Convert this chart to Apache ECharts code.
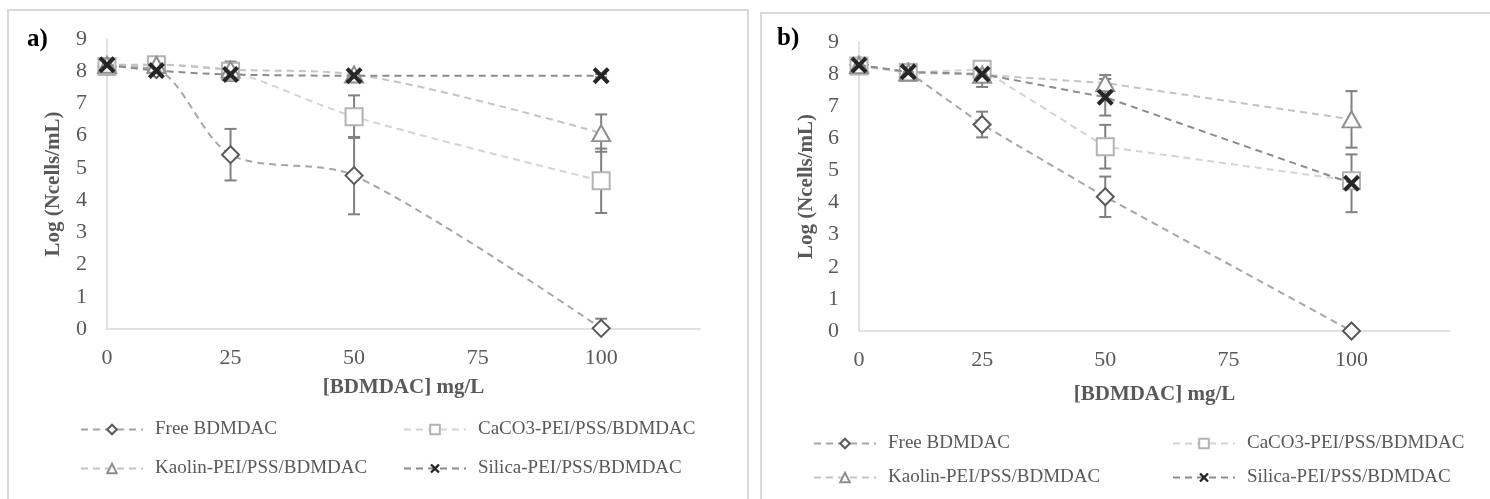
<!DOCTYPE html>
<html>
<head>
<meta charset="utf-8">
<script src="https://cdn.jsdelivr.net/npm/echarts@6/dist/echarts.min.js"></script>
<style>
html,body{margin:0;padding:0;background:#fff;}
#chart{width:1490px;height:499px;}
</style>
</head>
<body>
<div id="chart"></div>
<script>
// ---- data ----
const xValues = [0, 10, 25, 50, 100];
const xTicks = [0, 25, 50, 75, 100];
const seriesNames = ['Free BDMDAC', 'CaCO3-PEI/PSS/BDMDAC', 'Kaolin-PEI/PSS/BDMDAC', 'Silica-PEI/PSS/BDMDAC'];
const panelLabels = ['a)', 'b)'];
const xAxisTitle = '[BDMDAC] mg/L';
const yAxisTitle = 'Log (Ncells/mL)';

// panel a
const freeA      = [8.15, 8.05, 5.41, 4.76, 0.02];
const freeAErr   = [0.05, 0.10, 0.80, 1.20, 0.30];
const caco3A     = [8.15, 8.20, 8.00, 6.59, 4.60];
const caco3AErr  = [0.10, 0.10, 0.30, 0.66, 1.00];
const kaolinA    = [8.20, 8.20, 8.05, 7.90, 6.08];
const kaolinAErr = [0.05, 0.10, 0.20, 0.10, 0.58];
const silicaA    = [8.20, 8.02, 7.90, 7.86, 7.86];
const silicaAErr = [0.05, 0.05, 0.10, 0.05, 0.05];

// panel b
const freeB      = [8.28, 8.07, 6.43, 4.18, 0.00];
const freeBErr   = [0.05, 0.10, 0.40, 0.63, 0.05];
const caco3B     = [8.25, 8.05, 8.15, 5.74, 4.68];
const caco3BErr  = [0.05, 0.10, 0.20, 0.68, 0.20];
const kaolinB    = [8.28, 8.05, 7.98, 7.72, 6.59];
const kaolinBErr = [0.05, 0.10, 0.38, 0.25, 0.88];
const silicaB    = [8.28, 8.07, 8.00, 7.28, 4.60];
const silicaBErr = [0.05, 0.05, 0.10, 0.57, 0.90];

// ---- styles ----
const FONT = 'Liberation Serif';
const xMark = 'path://M0,1.7L1.7,0L5,3.3L8.3,0L10,1.7L6.7,5L10,8.3L8.3,10L5,6.7L1.7,10L0,8.3L3.3,5Z';
const styles = [
  {line:'#a6a6a6', marker:'#595959', symbol:'emptyDiamond', size:17, bw:2.5},
  {line:'#d4d4d4', marker:'#b3b3b3', symbol:'emptyRect', size:17, bw:2.5},
  {line:'#c4c4c4', marker:'#8f8f8f', symbol:'emptyTriangle', size:[18,16], bw:2.5},
  {line:'#8c8c8c', marker:'#262626', symbol:xMark, size:17, bw:0}
];

const panels = [
  {vals:[freeA, caco3A, kaolinA, silicaA], errs:[freeAErr, caco3AErr, kaolinAErr, silicaAErr], smooth:0.3},
  {vals:[freeB, caco3B, kaolinB, silicaB], errs:[freeBErr, caco3BErr, kaolinBErr, silicaBErr], smooth:false}
];

function errRender(params, api) {
  const x = api.value(0), y = api.value(1), e = api.value(2);
  const t = api.coord([x, y + e]);
  const b = api.coord([x, y - e]);
  const w = 6;
  const st = {stroke:'#808080', lineWidth:2};
  return {type:'group', children:[
    {type:'line', shape:{x1:t[0], y1:t[1], x2:b[0], y2:b[1]}, style:st},
    {type:'line', shape:{x1:t[0]-w, y1:t[1], x2:t[0]+w, y2:t[1]}, style:st},
    {type:'line', shape:{x1:b[0]-w, y1:b[1], x2:b[0]+w, y2:b[1]}, style:st}
  ]};
}

const series = [];
panels.forEach((p, pi) => {
  p.vals.forEach((vals, si) => {
    const s = styles[si];
    series.push({
      name: seriesNames[si], type:'line', xAxisIndex:pi, yAxisIndex:pi,
      data: xValues.map((x, i) => [x, vals[i]]),
      symbol: s.symbol, symbolSize: s.size, showSymbol:true, smooth:p.smooth,
      lineStyle:{color:s.line, width:2, type:[7,5]},
      itemStyle:{color:s.marker, borderColor:s.marker, borderWidth:s.bw},
      z: 3 + si, emphasis:{disabled:true}, silent:true
    });
  });
  p.vals.forEach((vals, si) => {
    series.push({
      name: 'err' + pi + '_' + si, type:'custom', xAxisIndex:pi, yAxisIndex:pi,
      data: xValues.map((x, i) => [x, vals[i], p.errs[si][i]]),
      renderItem: errRender, clip:true, z:2, silent:true
    });
  });
});

const grids = [
  {left:107, top:39, width:593, height:290},
  {left:859, top:42, width:591, height:289}
];
const xNameGap = [48, 53];
const yNameGap = [43, 42];

function xAxis(i) {
  return {
    gridIndex:i, type:'value', min:0, max:120, interval:25,
    axisLine:{show:true, lineStyle:{color:'#d9d9d9', width:1.5}},
    axisTick:{show:false}, splitLine:{show:false},
    axisLabel:{color:'#595959', fontFamily:FONT, fontSize:22, margin:18, showMaxLabel:false,
      formatter: v => xTicks.indexOf(v) >= 0 ? String(v) : ''},
    name: xAxisTitle, nameLocation:'middle', nameGap:xNameGap[i],
    nameTextStyle:{color:'#595959', fontFamily:FONT, fontSize:21, fontWeight:'bold'}
  };
}
function yAxis(i) {
  return {
    gridIndex:i, type:'value', min:0, max:9, interval:1,
    axisLine:{show:true, lineStyle:{color:'#d9d9d9', width:1.5}},
    axisTick:{show:false}, splitLine:{show:false},
    axisLabel:{color:'#595959', fontFamily:FONT, fontSize:22, margin:20},
    name: yAxisTitle, nameLocation:'middle', nameGap:yNameGap[i], nameRotate:90,
    nameTextStyle:{color:'#595959', fontFamily:FONT, fontSize:21, fontWeight:'bold'}
  };
}

const legendPos = [
  [[80, 420], [403, 420], [80, 459], [403, 459]],
  [[813, 434], [1172, 434], [813, 468], [1172, 468]]
];
const legends = [];
legendPos.forEach(pp => {
  pp.forEach((pos, k) => {
    legends.push({
      data:[seriesNames[k]], left:pos[0], top:pos[1], padding:0, orient:'horizontal',
      itemWidth:62, itemHeight:12, selectedMode:false,
      textStyle:{color:'#595959', fontFamily:FONT, fontSize:19, padding:[0,0,0,7]}
    });
  });
});

const option = {
  animation:false,
  backgroundColor:'#fff',
  textStyle:{fontFamily:FONT},
  title:[
    {text:panelLabels[0], left:27, top:27, padding:0, textStyle:{fontFamily:FONT, fontWeight:'bold', fontSize:25, color:'#000'}},
    {text:panelLabels[1], left:777, top:26, padding:0, textStyle:{fontFamily:FONT, fontWeight:'bold', fontSize:25, color:'#000'}}
  ],
  graphic:[
    {type:'rect', shape:{x:8, y:10, width:740, height:520}, style:{fill:'none', stroke:'#d9d9d9', lineWidth:2}, silent:true, z:-10},
    {type:'rect', shape:{x:761, y:13, width:760, height:520}, style:{fill:'none', stroke:'#d9d9d9', lineWidth:2}, silent:true, z:-10}
  ],
  grid: grids,
  xAxis:[xAxis(0), xAxis(1)],
  yAxis:[yAxis(0), yAxis(1)],
  legend: legends,
  series: series
};

const chart = echarts.init(document.getElementById('chart'));
chart.setOption(option);
</script>
</body>
</html>
